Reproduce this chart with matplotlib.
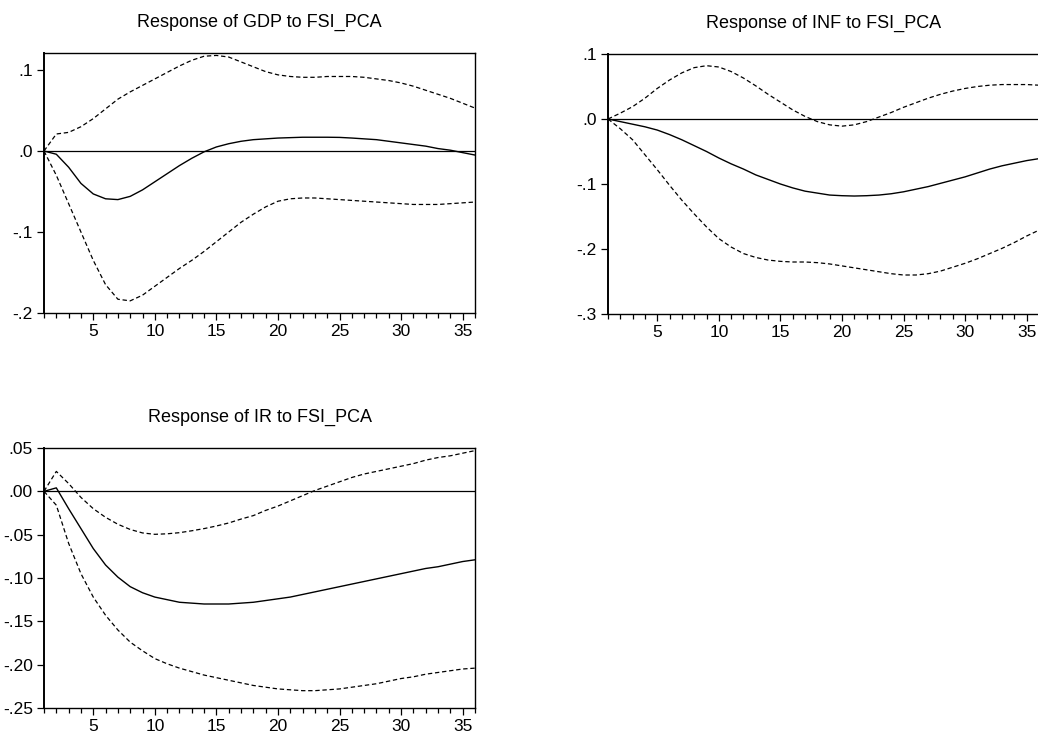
import matplotlib
matplotlib.use("Agg")
import matplotlib.pyplot as plt
from matplotlib.ticker import FixedLocator, MultipleLocator

plt.rcParams['font.family'] = ['Liberation Sans', 'DejaVu Sans']

periods = list(range(1, 37))

# Response of GDP to FSI_PCA
gdp_resp = [0, -0.004, -0.020, -0.040, -0.053, -0.059, -0.060, -0.056, -0.048, -0.038,
            -0.028, -0.018, -0.009, -0.001, 0.005, 0.009, 0.012, 0.014, 0.015, 0.016,
            0.0165, 0.017, 0.017, 0.017, 0.0168, 0.016, 0.015, 0.014, 0.012, 0.010,
            0.008, 0.006, 0.003, 0.001, -0.002, -0.005]
gdp_upper = [0, 0.021, 0.023, 0.030, 0.040, 0.052, 0.064, 0.073, 0.081, 0.089,
             0.097, 0.105, 0.112, 0.117, 0.118, 0.116, 0.110, 0.104, 0.098, 0.094,
             0.092, 0.091, 0.091, 0.092, 0.092, 0.092, 0.091, 0.089, 0.087, 0.084,
             0.080, 0.075, 0.070, 0.065, 0.059, 0.053]
gdp_lower = [0, -0.030, -0.065, -0.100, -0.135, -0.165, -0.183, -0.185, -0.178, -0.167,
             -0.156, -0.145, -0.135, -0.124, -0.112, -0.100, -0.088, -0.078, -0.069, -0.062,
             -0.059, -0.058, -0.058, -0.059, -0.060, -0.061, -0.062, -0.063, -0.064, -0.065,
             -0.066, -0.066, -0.066, -0.065, -0.064, -0.063]

# Response of INF to FSI_PCA
inf_resp = [0, -0.004, -0.008, -0.012, -0.017, -0.024, -0.032, -0.041, -0.050, -0.060,
            -0.069, -0.077, -0.086, -0.093, -0.100, -0.106, -0.111, -0.114, -0.117, -0.118,
            -0.1185, -0.118, -0.117, -0.115, -0.112, -0.108, -0.104, -0.099, -0.094, -0.089,
            -0.083, -0.077, -0.072, -0.068, -0.064, -0.061]
inf_upper = [0, 0.009, 0.019, 0.032, 0.047, 0.060, 0.071, 0.079, 0.082, 0.080,
             0.073, 0.063, 0.051, 0.038, 0.026, 0.014, 0.004, -0.004, -0.009, -0.011,
             -0.009, -0.004, 0.003, 0.010, 0.018, 0.025, 0.032, 0.038, 0.043, 0.047,
             0.050, 0.052, 0.053, 0.053, 0.053, 0.052]
inf_lower = [0, -0.015, -0.032, -0.055, -0.078, -0.102, -0.125, -0.146, -0.166, -0.184,
             -0.197, -0.207, -0.213, -0.217, -0.219, -0.220, -0.220, -0.221, -0.223, -0.226,
             -0.229, -0.232, -0.235, -0.238, -0.240, -0.240, -0.238, -0.234, -0.228, -0.222,
             -0.215, -0.207, -0.199, -0.190, -0.180, -0.171]

# Response of IR to FSI_PCA
ir_resp = [0, 0.004, -0.020, -0.043, -0.066, -0.085, -0.099, -0.110, -0.117, -0.122,
           -0.125, -0.128, -0.129, -0.130, -0.130, -0.130, -0.129, -0.128, -0.126, -0.124,
           -0.122, -0.119, -0.116, -0.113, -0.110, -0.107, -0.104, -0.101, -0.098, -0.095,
           -0.092, -0.089, -0.087, -0.084, -0.081, -0.079]
ir_upper = [0, 0.023, 0.009, -0.007, -0.020, -0.030, -0.038, -0.044, -0.048, -0.0496,
            -0.049, -0.0477, -0.0455, -0.043, -0.040, -0.0365, -0.032, -0.028, -0.022, -0.017,
            -0.011, -0.005, 0.001, 0.006, 0.011, 0.016, 0.020, 0.023, 0.026, 0.029,
            0.032, 0.036, 0.039, 0.041, 0.044, 0.047]
ir_lower = [0, -0.016, -0.060, -0.095, -0.122, -0.143, -0.160, -0.174, -0.184, -0.193,
            -0.199, -0.204, -0.208, -0.212, -0.215, -0.218, -0.221, -0.224, -0.226, -0.228,
            -0.229, -0.230, -0.230, -0.229, -0.228, -0.226, -0.224, -0.222, -0.219, -0.216,
            -0.214, -0.211, -0.209, -0.207, -0.205, -0.204]

gdp_yticks = [-0.2, -0.1, 0.0, 0.1]
gdp_ylabels = ['-.2', '-.1', '.0', '.1']
inf_yticks = [-0.3, -0.2, -0.1, 0.0, 0.1]
inf_ylabels = ['-.3', '-.2', '-.1', '.0', '.1']
ir_yticks = [-0.25, -0.20, -0.15, -0.10, -0.05, 0.00, 0.05]
ir_ylabels = ['-.25', '-.20', '-.15', '-.10', '-.05', '.00', '.05']

panels = [
    ("Response of GDP to FSI_PCA", gdp_resp, gdp_upper, gdp_lower, gdp_yticks, gdp_ylabels,
     (-0.2, 0.121), [44 / 1038, 1 - 313 / 736, 431 / 1038, 260 / 736]),
    ("Response of INF to FSI_PCA", inf_resp, inf_upper, inf_lower, inf_yticks, inf_ylabels,
     (-0.3, 0.1), [608 / 1038, 1 - 314 / 736, 431 / 1038, 260 / 736]),
    ("Response of IR to FSI_PCA", ir_resp, ir_upper, ir_lower, ir_yticks, ir_ylabels,
     (-0.25, 0.05), [44 / 1038, 1 - 708 / 736, 431 / 1038, 260 / 736]),
]

fig = plt.figure(figsize=(10.38, 7.36), dpi=100)

for title, resp, upper, lower, yticks, ylabels, ylim, rect in panels:
    ax = fig.add_axes(rect)
    ax.axhline(0, color='black', linewidth=0.9)
    ax.plot(periods, upper, color='black', linewidth=0.9, linestyle=(0, (3.5, 2.2)))
    ax.plot(periods, lower, color='black', linewidth=0.9, linestyle=(0, (3.5, 2.2)))
    ax.plot(periods, resp, color='black', linewidth=1.0)
    ax.set_xlim(1, 36)
    ax.set_ylim(*ylim)
    ax.yaxis.set_major_locator(FixedLocator(yticks))
    ax.set_yticklabels(ylabels)
    ax.xaxis.set_major_locator(FixedLocator([5, 10, 15, 20, 25, 30, 35]))
    ax.xaxis.set_minor_locator(MultipleLocator(1))
    ax.tick_params(axis='both', which='major', direction='out', length=5, width=0.9,
                   labelsize=12.5, pad=3)
    ax.tick_params(axis='x', which='minor', direction='out', length=3.5, width=0.9)
    ax.tick_params(top=False, right=False)
    for s in ax.spines.values():
        s.set_linewidth(1.0)
    ax.spines['left'].set_linewidth(1.4)
    ax.set_title(title, fontsize=13, pad=19)

fig.savefig('out.png', dpi=100)
